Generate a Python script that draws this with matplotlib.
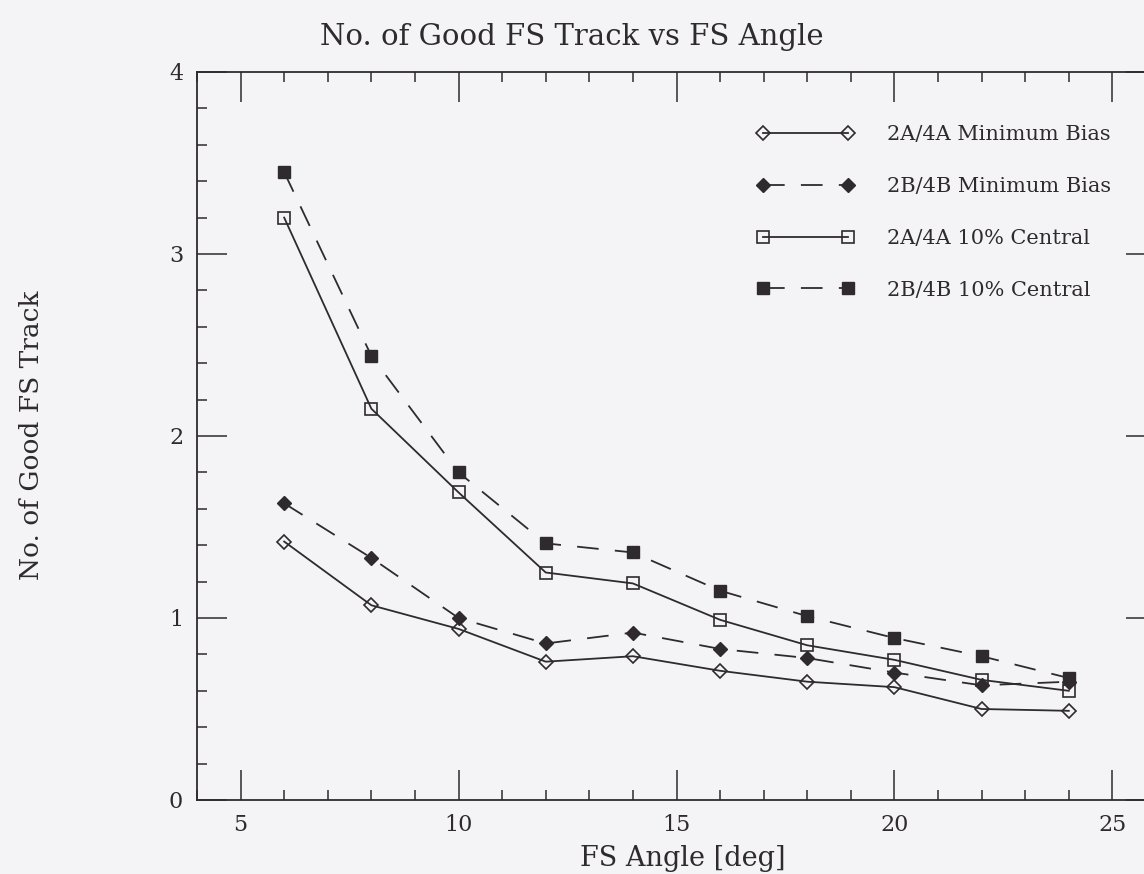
import matplotlib
matplotlib.use("Agg")
import matplotlib.pyplot as plt
from matplotlib.lines import Line2D
from matplotlib.legend_handler import HandlerLine2D
from matplotlib.ticker import MultipleLocator

# FS angle settings [deg]
angles = [6, 8, 10, 12, 14, 16, 18, 20, 22, 24]

# mean number of good FS tracks per event
a_minbias = [1.42, 1.07, 0.94, 0.76, 0.79, 0.71, 0.65, 0.62, 0.50, 0.49]
b_minbias = [1.63, 1.33, 1.00, 0.86, 0.92, 0.83, 0.78, 0.70, 0.63, 0.65]
a_central = [3.20, 2.15, 1.69, 1.25, 1.19, 0.99, 0.85, 0.77, 0.66, 0.60]
b_central = [3.45, 2.44, 1.80, 1.41, 1.36, 1.15, 1.01, 0.89, 0.79, 0.67]

series_labels = [
    "2A/4A Minimum Bias",
    "2B/4B Minimum Bias",
    "2A/4A 10% Central",
    "2B/4B 10% Central",
]

INK = "#2e2a2e"
PAPER = "#f4f4f6"

plt.rcParams["font.family"] = ["DejaVu Serif"]
plt.rcParams["text.color"] = INK
plt.rcParams["axes.edgecolor"] = INK
plt.rcParams["xtick.color"] = INK
plt.rcParams["ytick.color"] = INK

fig = plt.figure(figsize=(11.44, 8.74), dpi=100, facecolor=PAPER)
W, H = 1144, 874
# x runs 4..26; the right frame falls just past the page edge
ax = fig.add_axes([197 / W, 74 / H, 959 / W, 728 / H])
ax.set_facecolor(PAPER)

dash = (0, (12, 9))
common = dict(color=INK, linewidth=1.3)

ax.plot(angles, a_minbias, linestyle="-", marker="D", markersize=7.5,
        markerfacecolor="none", markeredgecolor=INK, markeredgewidth=1.2,
        label=series_labels[0], **common)
ax.plot(angles, b_minbias, linestyle=dash, marker="D", markersize=7.5,
        markerfacecolor=INK, markeredgecolor=INK,
        label=series_labels[1], **common)
ax.plot(angles, a_central, linestyle="-", marker="s", markersize=9,
        markerfacecolor="none", markeredgecolor=INK, markeredgewidth=1.2,
        label=series_labels[2], **common)
ax.plot(angles, b_central, linestyle=dash, marker="s", markersize=9,
        markerfacecolor=INK, markeredgecolor=INK,
        label=series_labels[3], **common)

ax.set_xlim(4, 26)
ax.set_ylim(0, 4)
ax.xaxis.set_major_locator(MultipleLocator(5))
ax.xaxis.set_minor_locator(MultipleLocator(1))
ax.yaxis.set_major_locator(MultipleLocator(1))
ax.yaxis.set_minor_locator(MultipleLocator(0.2))
ax.tick_params(which="both", direction="in", top=True, right=True,
               width=1.1, labelsize=16)
ax.tick_params(which="major", length=21.5, pad=10)
ax.tick_params(which="minor", length=7)
for spine in ax.spines.values():
    spine.set_linewidth(1.3)

fig.text(0.5, 1 - 37 / H, "No. of Good FS Track vs FS Angle",
         ha="center", va="center", fontsize=21)
fig.text(683 / W, 1 - 858 / H, "FS Angle [deg]",
         ha="center", va="center", fontsize=19.5)
fig.text(32 / W, 1 - 435 / H, "No. of Good FS Track",
         ha="center", va="center", rotation=90, fontsize=19)

ax.legend(loc="upper left", bbox_to_anchor=(763 / W, 1 - 125 / H),
          bbox_transform=fig.transFigure, frameon=False, fontsize=15,
          numpoints=2, handlelength=4.1, handletextpad=1.85,
          labelspacing=1.58, borderpad=0, borderaxespad=0,
          handler_map={Line2D: HandlerLine2D(marker_pad=0)})

fig.savefig("out.png", dpi=100, facecolor=PAPER)
